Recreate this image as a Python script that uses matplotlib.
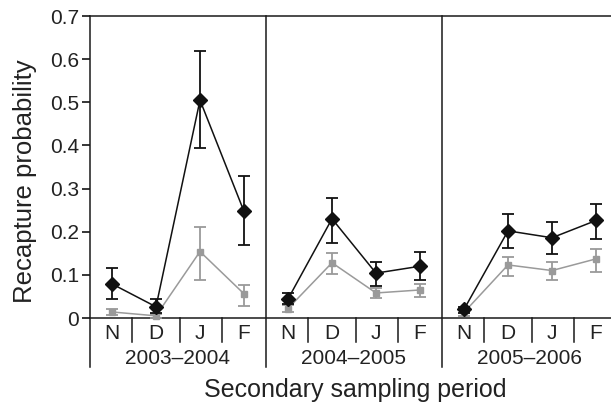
import numpy as np
import matplotlib
matplotlib.use("Agg")
import matplotlib.pyplot as plt

plt.rcParams["font.family"] = ["Liberation Sans", "DejaVu Sans"]

MONTHS = ["N", "D", "J", "F"]
SEASONS = ["2003\u20132004", "2004\u20132005", "2005\u20132006"]

# black series (diamonds): estimate, lower and upper error bar ends
black_mean = [0.079, 0.026, 0.505, 0.247,
              0.044, 0.230, 0.104, 0.120,
              0.020, 0.202, 0.186, 0.226]
black_lo = [0.044, 0.012, 0.395, 0.170,
            0.033, 0.175, 0.074, 0.088,
            0.012, 0.163, 0.149, 0.184]
black_hi = [0.116, 0.044, 0.620, 0.330,
            0.058, 0.277, 0.130, 0.153,
            0.026, 0.240, 0.223, 0.265]

# grey series (squares)
grey_mean = [0.014, 0.005, 0.154, 0.056,
             0.022, 0.128, 0.058, 0.065,
             0.013, 0.123, 0.110, 0.137]
grey_lo = [0.008, 0.001, 0.088, 0.028,
           0.013, 0.102, 0.046, 0.049,
           0.005, 0.098, 0.088, 0.107]
grey_hi = [0.020, 0.009, 0.212, 0.077,
           0.031, 0.151, 0.070, 0.079,
           0.020, 0.142, 0.130, 0.160]

y_ticks = [0, 0.1, 0.2, 0.3, 0.4, 0.5, 0.6, 0.7]
y_tick_labels = ["0", "0.1", "0.2", "0.3", "0.4", "0.5", "0.6", "0.7"]

W, H = 611, 405
fig = plt.figure(figsize=(W / 100, H / 100), dpi=100)
ax = fig.add_axes([90 / W, 87 / H, 528 / W, 302 / H])
ax.set_xlim(0, 12)
ax.set_ylim(0, 0.7)

n_m = len(MONTHS)
line_kw = dict(color="#1a1a1a", lw=1.1, clip_on=False)

for s in range(len(SEASONS)):
    sl = slice(s * n_m, (s + 1) * n_m)
    x = s * n_m + np.arange(n_m) + 0.5
    gm = np.array(grey_mean[sl])
    ax.errorbar(x, gm, yerr=[gm - np.array(grey_lo[sl]), np.array(grey_hi[sl]) - gm],
                color="#9a9a9a", marker="s", ms=4.5, lw=1.1, elinewidth=1.3,
                capsize=4.5, capthick=1.3, zorder=3, clip_on=False)
    bm = np.array(black_mean[sl])
    ax.errorbar(x, bm, yerr=[bm - np.array(black_lo[sl]), np.array(black_hi[sl]) - bm],
                color="#111111", marker="D", ms=7, lw=1.1, elinewidth=1.3,
                capsize=4.5, capthick=1.3, zorder=4, clip_on=False)

    # separators below the axis
    for d in [0.95, 2.05, 3.0]:
        ax.plot([s * n_m + d] * 2, [0, -0.056], **line_kw)
    ax.plot([s * n_m] * 2, [0.7, -0.114], **line_kw)
    ax.text(s * n_m + n_m / 2, -0.095, SEASONS[s], ha="center", va="center",
            fontsize=15, color="#222222")

ax.set_xticks(np.arange(len(SEASONS) * n_m) + 0.5)
ax.set_xticklabels(MONTHS * len(SEASONS), fontsize=15, color="#222222")
ax.tick_params(axis="x", length=0, pad=4)
ax.set_yticks(y_ticks)
ax.set_yticklabels(y_tick_labels, fontsize=15, color="#222222")
ax.tick_params(axis="y", length=6, width=1.1, pad=2)

ax.spines["right"].set_visible(False)
ax.spines["left"].set_visible(False)
for sp in ["top", "bottom"]:
    ax.spines[sp].set_linewidth(1.1)
    ax.spines[sp].set_color("#1a1a1a")

fig.text(355 / W, 1 - 390 / H, "Secondary sampling period", ha="center",
         va="center", fontsize=18, color="#222222")
fig.text(25 / W, 1 - 181 / H, "Recapture probability", ha="center",
         va="center", rotation=90, fontsize=18.5, color="#222222")

fig.savefig("out.png", dpi=100)
